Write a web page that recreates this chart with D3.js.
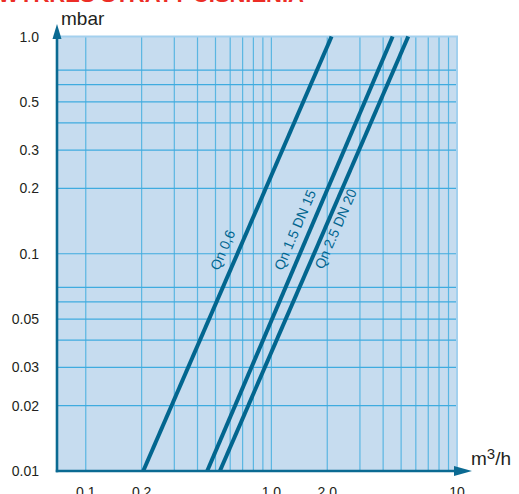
<!DOCTYPE html>
<html>
<head>
    <meta charset="utf-8">
    <style>
        body {
            margin: 0;
            background: white;
        }
        svg {
            display: block;
            font-family: Arial, 'Liberation Sans', sans-serif;
        }
    </style>
</head>
<body>
    <svg width="519" height="494"></svg>

<script src="https://d3js.org/d3.v7.min.js"></script>
<script>
    // values
    let yTicks = [0.01, 0.02, 0.03, 0.05, 0.1, 0.2, 0.3, 0.5, 1.0];
    let yTickLabels = ["0.01", "0.02", "0.03", "0.05", "0.1", "0.2", "0.3", "0.5", "1.0"];
    let xTicks = [0.1, 0.2, 1, 2, 10];
    let xTickLabels = ["0.1", "0.2", "1.0", "2.0", "10"];

    // grid: 1..9 per decade on x, 1..7 per decade on y
    let xGrid = [0.1, 0.2, 0.3, 0.4, 0.5, 0.6, 0.7, 0.8, 0.9, 1, 2, 3, 4, 5, 6, 7, 8, 9];
    let yGrid = [0.02, 0.03, 0.04, 0.05, 0.06, 0.07, 0.1, 0.2, 0.3, 0.4, 0.5, 0.6, 0.7];

    // each meter: flow at 0.01 mbar and at 1.0 mbar
    let meterNames = ["Qn 0,6", "Qn 1.5 DN 15", "Qn 2.5 DN 20"];
    let flowLow = [0.204, 0.451, 0.528];
    let flowHigh = [2.11, 4.50, 5.46];
    let dpLow = 0.01;
    let dpHigh = 1.0;
    let labelDp = [0.08, 0.08, 0.09];

    let svg = d3.select("svg");

    let plotLeft = 57, plotRight = 457, plotTop = 36.5, plotBottom = 471;

    let x = d3.scaleLog().domain([0.07, 10]).range([plotLeft, plotRight]);
    let y = d3.scaleLog().domain([0.01, 1]).range([plotBottom, plotTop]);

    let blue = "#0b6a92";

    // red heading, cut off by the top edge
    svg.append("text")
        .text("WYKRES STRATY CIŚNIENIA")
        .attr("x", -2)
        .attr("y", 2)
        .style("font-size", "22px")
        .style("font-weight", "bold")
        .style("fill", "#ec2d26");

    // plot background
    svg.append("rect")
        .attr("x", plotLeft)
        .attr("y", plotTop)
        .attr("width", plotRight - plotLeft)
        .attr("height", plotBottom - plotTop)
        .style("fill", "#c6dcef");

    svg.selectAll(".vgrid")
        .data(xGrid)
        .join("line")
        .attr("class", "vgrid")
        .attr("x1", d => x(d))
        .attr("x2", d => x(d))
        .attr("y1", plotTop)
        .attr("y2", plotBottom)
        .style("stroke", "#5ab6e2")
        .style("stroke-width", 1.2);

    svg.selectAll(".hgrid")
        .data(yGrid)
        .join("line")
        .attr("class", "hgrid")
        .attr("x1", plotLeft)
        .attr("x2", plotRight)
        .attr("y1", d => y(d))
        .attr("y2", d => y(d))
        .style("stroke", "#3fabdf")
        .style("stroke-width", 1.2);

    // light border on top and right
    svg.append("path")
        .attr("d", `M${plotLeft},${plotTop}H${plotRight}V${plotBottom}`)
        .style("fill", "none")
        .style("stroke", "#a3d0ee")
        .style("stroke-width", 2);

    // meter curves (straight on log-log)
    let curves = meterNames.map((name, i) => [[flowLow[i], dpLow], [flowHigh[i], dpHigh]]);

    let line = d3.line()
        .x(d => x(d[0]))
        .y(d => y(d[1]));

    svg.selectAll(".curve")
        .data(curves)
        .join("path")
        .attr("class", "curve")
        .attr("d", line)
        .style("fill", "none")
        .style("stroke", "#02668f")
        .style("stroke-width", 4);

    // labels along the curves
    let offsets = [-9, -9, 16];
    meterNames.forEach((name, i) => {
        let x0 = x(flowLow[i]), y0 = y(dpLow);
        let x1 = x(flowHigh[i]), y1 = y(dpHigh);
        let angle = Math.atan2(y1 - y0, x1 - x0) * 180 / Math.PI;
        let q = flowLow[i] * Math.sqrt(labelDp[i] / dpLow);
        svg.append("text")
            .text(name)
            .attr("transform", `translate(${x(q)},${y(labelDp[i])}) rotate(${angle})`)
            .attr("dy", offsets[i])
            .style("font-size", "14px")
            .style("fill", "#02668f");
    });

    // axes with arrow heads
    svg.append("line")
        .attr("x1", plotLeft).attr("x2", plotLeft)
        .attr("y1", plotBottom + 1.2).attr("y2", 36)
        .style("stroke", blue)
        .style("stroke-width", 2.6);
    svg.append("path")
        .attr("d", `M${plotLeft},24L${plotLeft + 4.5},39L${plotLeft - 4.5},39Z`)
        .style("fill", blue);

    svg.append("line")
        .attr("x1", plotLeft - 1.2).attr("x2", 458)
        .attr("y1", plotBottom).attr("y2", plotBottom)
        .style("stroke", blue)
        .style("stroke-width", 2.6);
    svg.append("path")
        .attr("d", `M472,${plotBottom}L454,${plotBottom - 5}L454,${plotBottom + 5}Z`)
        .style("fill", blue);

    // tick labels
    svg.selectAll(".ylab")
        .data(yTicks)
        .join("text")
        .attr("class", "ylab")
        .attr("x", 39)
        .attr("y", d => y(d))
        .attr("dy", "0.36em")
        .attr("text-anchor", "end")
        .text((d, i) => yTickLabels[i])
        .style("font-size", "14px")
        .style("fill", "#231f20");

    svg.selectAll(".xlab")
        .data(xTicks)
        .join("text")
        .attr("class", "xlab")
        .attr("x", d => x(d))
        .attr("y", 497)
        .attr("text-anchor", "middle")
        .text((d, i) => xTickLabels[i])
        .style("font-size", "14px")
        .style("fill", "#231f20");

    // axis titles
    svg.append("text")
        .text("mbar")
        .attr("x", 61)
        .attr("y", 25)
        .style("font-size", "19px")
        .style("fill", "#231f20");

    let unit = svg.append("text")
        .attr("x", 471)
        .attr("y", 465)
        .style("font-size", "19px")
        .style("fill", "#231f20");
    unit.append("tspan").text("m");
    unit.append("tspan").text("3").attr("dy", -6).style("font-size", "15px");
    unit.append("tspan").text("/h").attr("dy", 6);
</script>
</body>
</html>
